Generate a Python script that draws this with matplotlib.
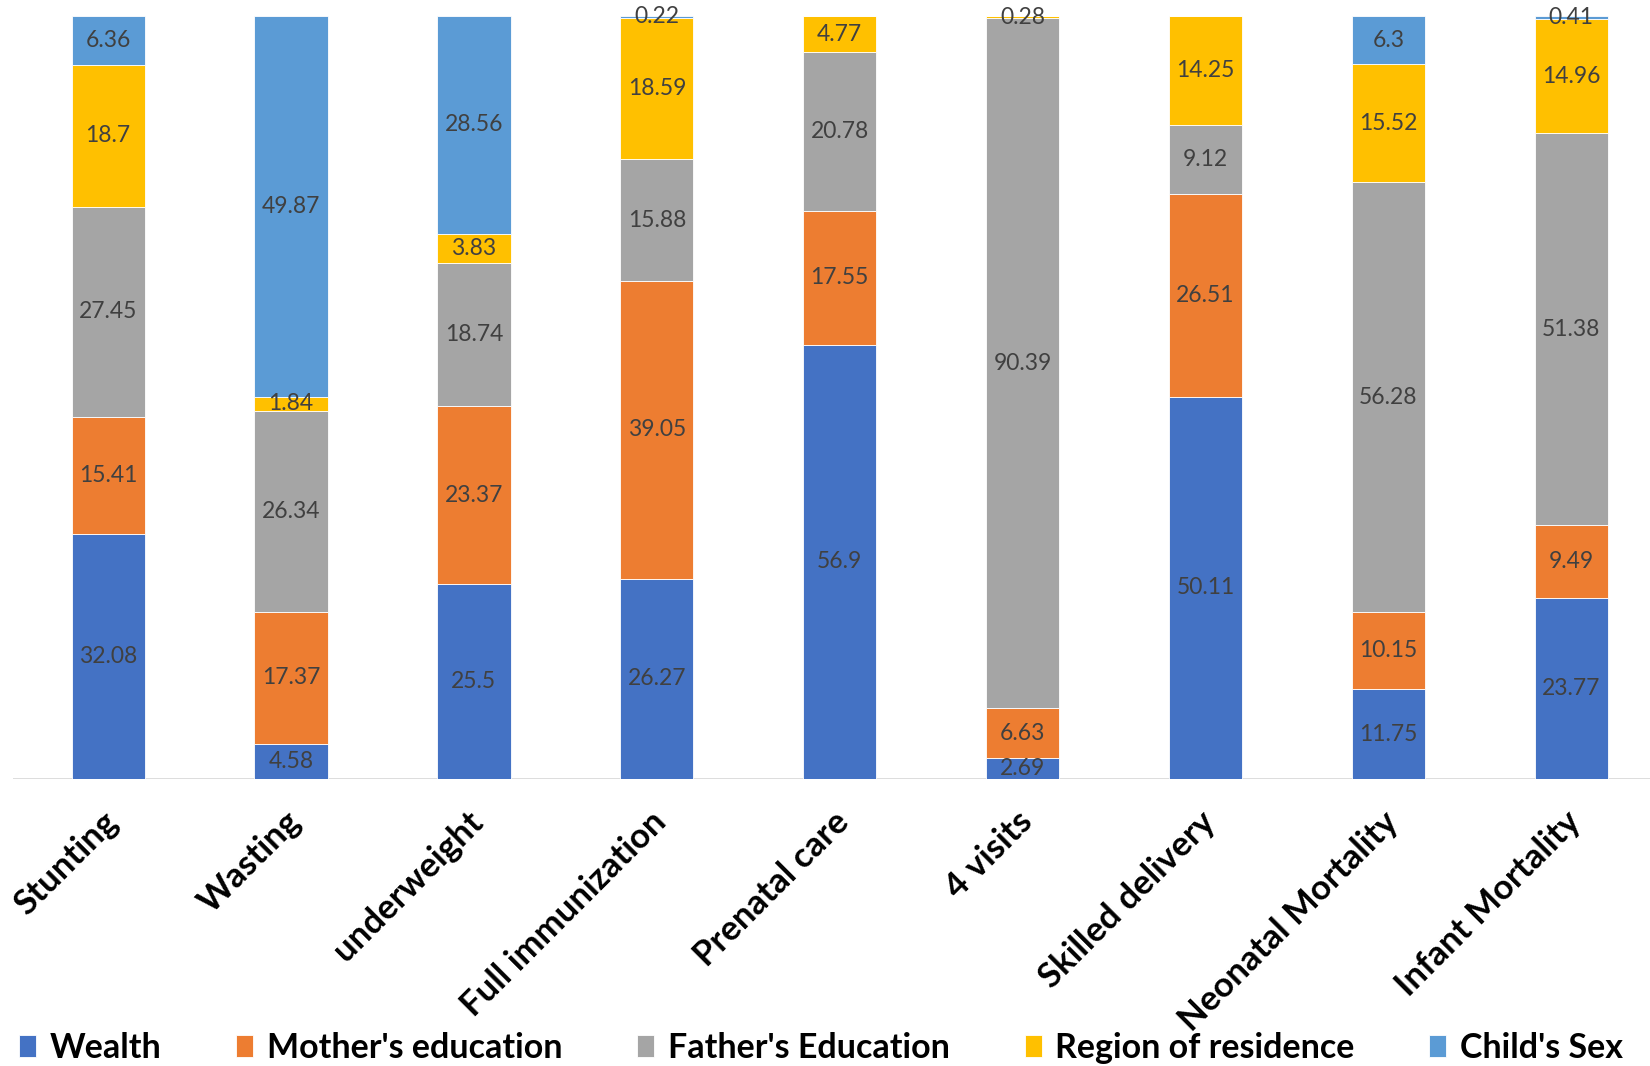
import matplotlib
matplotlib.use("Agg")
import matplotlib.pyplot as plt
import matplotlib.transforms as mtrans
import numpy as np

categories = ["Stunting", "Wasting", "underweight", "Full immunization", "Prenatal care",
              "4 visits", "Skilled delivery", "Neonatal Mortality", "Infant Mortality"]
series_names = ["Wealth", "Mother's education", "Father's Education", "Region of residence", "Child's Sex"]
wealth = [32.08, 4.58, 25.5, 26.27, 56.9, 2.69, 50.11, 11.75, 23.77]
mother = [15.41, 17.37, 23.37, 39.05, 17.55, 6.63, 26.51, 10.15, 9.49]
father = [27.45, 26.34, 18.74, 15.88, 20.78, 90.39, 9.12, 56.28, 51.38]
region = [18.7, 1.84, 3.83, 18.59, 4.77, 0.28, 14.25, 15.52, 14.96]
child = [6.36, 49.87, 28.56, 0.22, 0.0, 0.0, 0.0, 6.3, 0.41]
colors = ["#4472C4", "#ED7D31", "#A5A5A5", "#FFC000", "#5B9BD5"]

plt.rcParams["font.family"] = ["Lato", "DejaVu Sans"]

fig = plt.figure(figsize=(16.5, 10.66), dpi=100)
ax = fig.add_axes([13 / 1650, 1 - 779 / 1066, 1 - 13 / 1650, (779 - 16) / 1066])

x = np.arange(len(categories))
bottom = np.zeros(len(categories))
all_series = [wealth, mother, father, region, child]
handles = []
for vals, col, name in zip(all_series, colors, series_names):
    vals = np.array(vals)
    b = ax.bar(x, vals, width=0.4, bottom=bottom, color=col, edgecolor="white",
               linewidth=0.6, label=name, zorder=2)
    handles.append(b)
    for xi, v, bt in zip(x, vals, bottom):
        if v > 0:
            ax.text(xi, bt + v / 2, f"{v:g}", ha="center", va="center",
                    fontsize=16.5, color="#404040", zorder=3)
    bottom += vals

ax.set_xlim(-0.52, 8.43)
ax.set_ylim(0, 100)
for s in ax.spines.values():
    s.set_visible(False)
ax.axhline(0, color="#D9D9D9", linewidth=2, zorder=1)
ax.set_yticks([])
ax.set_xticks(x)
ax.set_xticklabels(categories, rotation=45, ha="right", va="top",
                   rotation_mode="anchor", fontsize=25, fontweight="bold")
ax.tick_params(axis="x", length=0, pad=19)
offset = mtrans.ScaledTranslation(-0.07, 0, fig.dpi_scale_trans)
for lbl in ax.get_xticklabels():
    lbl.set_transform(lbl.get_transform() + offset)

fig.legend(handles=handles, labels=series_names, loc="center left",
           bbox_to_anchor=(19 / 1650, 1 - 1048 / 1066), ncol=5, frameon=False,
           prop={"size": 24.5, "weight": "bold"}, handlelength=0.5, handleheight=0.6,
           handletextpad=0.4, columnspacing=2.2, borderaxespad=0, borderpad=0)

fig.savefig("out.png", dpi=100)
